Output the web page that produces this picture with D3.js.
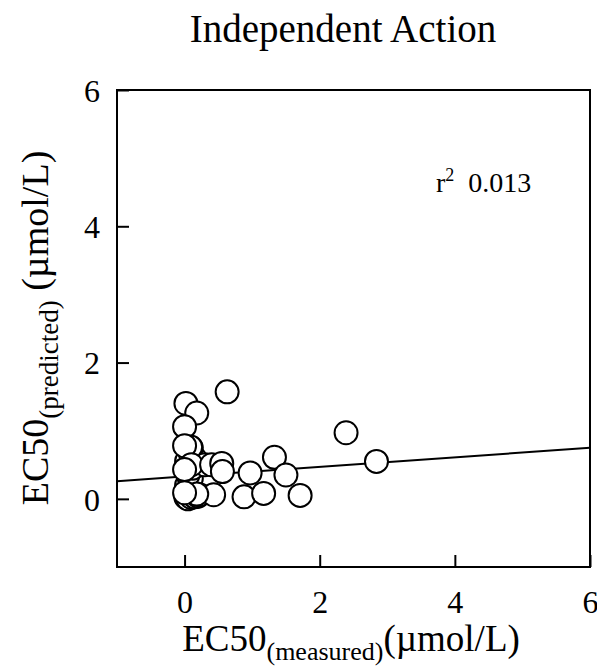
<!DOCTYPE html>
<html>
<head>
<meta charset="utf-8">
<script src="https://cdn.jsdelivr.net/npm/d3@7"></script>
<style>
  html, body { margin: 0; padding: 0; background: #fff; }
  svg { display: block; font-family: "Liberation Serif", "Times New Roman", serif; }
</style>
</head>
<body>
<svg id="chart" width="597" height="668"></svg>
<script>
// Measured vs. predicted EC50 (µmol/L), Independent Action model
const measured = [
  0.02, 0.05, 0.10, 0.15, 0.20, 0.08, 0.03, 0.10, 0.05, 0.12, 0.03, 0.15, 0.08, 0.10, 0.30,
  0.63, 0.02, 0.18, 0.00, 0.09, 0.00, 0.10, 0.40, 0.55, 0.56, 0.97, 1.33, 1.50, 2.39, 2.84,
  0.00, 0.22, 0.43, 0.88, 1.17, 1.71, 0.18, 0.00
];
const predicted = [
  0.02, 0.00, 0.02, 0.03, 0.04, 0.12, 0.20, 0.30, 0.35, 0.45, 0.55, 0.60, 0.68, 0.75, 0.50,
  1.57, 1.40, 1.26, 1.06, 0.76, 0.78, 0.50, 0.50, 0.52, 0.40, 0.38, 0.61, 0.35, 0.97, 0.55,
  0.43, 0.06, 0.06, 0.03, 0.08, 0.05, 0.07, 0.09
];
// Linear fit of predicted on measured
const fitIntercept = 0.33;
const fitSlope = 0.07;
const rSquared = "0.013";

const xTicks = [0, 2, 4, 6];
const yTicks = [0, 2, 4, 6];
const xDomain = [-1, 6];
const yDomain = [-1, 6];

const svg = d3.select("#chart");
const margin = { left: 117, right: 7, top: 90, bottom: 101 };
const W = 597, H = 668;

const x = d3.scaleLinear().domain(xDomain).range([margin.left, W - margin.right]);
const y = d3.scaleLinear().domain(yDomain).range([H - margin.bottom, margin.top]);

// Title
svg.append("text")
  .attr("x", 343).attr("y", 42)
  .attr("text-anchor", "middle")
  .attr("font-size", 39)
  .text("Independent Action");

// Plot clip for marks
svg.append("defs").append("clipPath").attr("id", "plotClip")
  .append("rect")
  .attr("x", x(xDomain[0])).attr("y", y(yDomain[1]))
  .attr("width", x(xDomain[1]) - x(xDomain[0]))
  .attr("height", y(yDomain[0]) - y(yDomain[1]));

const plot = svg.append("g").attr("clip-path", "url(#plotClip)");

// Regression line
plot.append("path")
  .datum(xDomain.map(v => [v, fitIntercept + fitSlope * v]))
  .attr("d", d3.line().x(d => x(d[0])).y(d => y(d[1])))
  .attr("fill", "none")
  .attr("stroke", "#000")
  .attr("stroke-width", 2);

// Points
plot.selectAll("circle.pt")
  .data(measured.map((m, i) => [m, predicted[i]]))
  .join("circle")
  .attr("class", "pt")
  .attr("cx", d => x(d[0]))
  .attr("cy", d => y(d[1]))
  .attr("r", 11.5)
  .attr("fill", "#fff")
  .attr("stroke", "#000")
  .attr("stroke-width", 2);

// Axes with inward ticks
const xAxis = d3.axisBottom(x).tickValues(xTicks).tickSize(-12).tickPadding(23).tickFormat(d3.format("d"));
const yAxis = d3.axisLeft(y).tickValues(yTicks).tickSize(-12).tickPadding(17).tickFormat(d3.format("d"));

const gx = svg.append("g").attr("transform", `translate(0,${y(yDomain[0])})`).call(xAxis);
const gy = svg.append("g").attr("transform", `translate(${x(xDomain[0])},0)`).call(yAxis);
[gx, gy].forEach(g => {
  g.select(".domain").remove();
  g.selectAll(".tick line").attr("stroke", "#000").attr("stroke-width", 2);
  g.selectAll(".tick text")
    .attr("fill", "#000")
    .attr("font-size", 32)
    .attr("font-family", "Liberation Serif, Times New Roman, serif");
});
gx.selectAll(".tick text").attr("dy", "0.71em");
gy.selectAll(".tick text").attr("dy", "0.35em");

// Frame
svg.append("rect")
  .attr("x", x(xDomain[0])).attr("y", y(yDomain[1]))
  .attr("width", x(xDomain[1]) - x(xDomain[0]))
  .attr("height", y(yDomain[0]) - y(yDomain[1]))
  .attr("fill", "none")
  .attr("stroke", "#000")
  .attr("stroke-width", 2);

// r² annotation
const rt = svg.append("text")
  .attr("x", 436).attr("y", 192)
  .attr("font-size", 28);
rt.append("tspan").text("r");
rt.append("tspan").attr("font-size", 18).attr("dy", -11).text("2");
rt.append("tspan").attr("dy", 11).text("\u00a0 " + rSquared);

// X axis title
const xt = svg.append("text")
  .attr("x", 351).attr("y", 651)
  .attr("text-anchor", "middle")
  .attr("font-size", 37);
xt.append("tspan").text("EC50");
xt.append("tspan").attr("font-size", 26).attr("dy", 9).text("(measured)");
xt.append("tspan").attr("dy", -9).text("(\u00b5mol/L)");

// Y axis title
const yt = svg.append("text")
  .attr("transform", "translate(48,328) rotate(-90)")
  .attr("text-anchor", "middle")
  .attr("font-size", 38);
yt.append("tspan").text("EC50");
yt.append("tspan").attr("font-size", 27).attr("dy", 10).text("(predicted)");
yt.append("tspan").attr("dy", -10).text(" (\u00b5mol/L)");
</script>
</body>
</html>
